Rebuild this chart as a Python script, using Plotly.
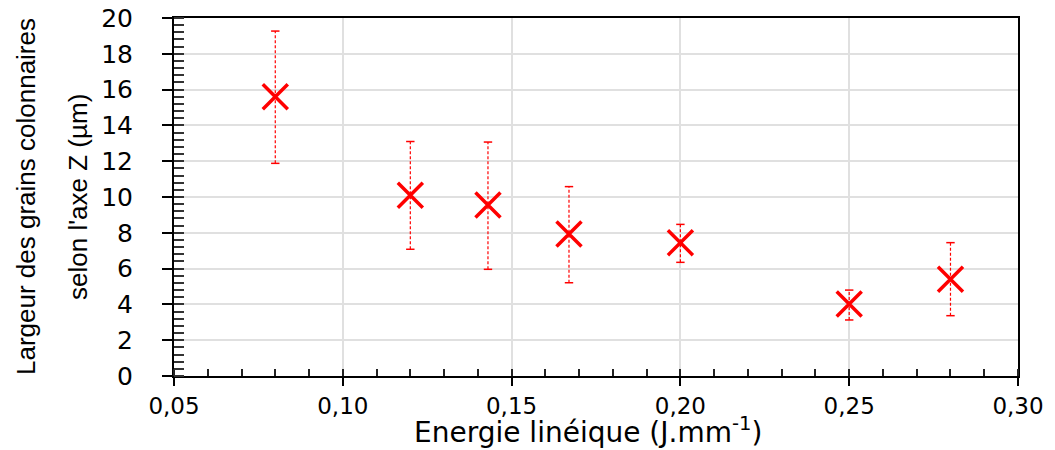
import plotly.graph_objects as go

energie = [0.08, 0.12, 0.143, 0.167, 0.20, 0.25, 0.28]
largeur = [15.6, 10.1, 9.55, 7.93, 7.45, 4.02, 5.40]
borne_haute = [19.27, 13.1, 13.07, 10.58, 8.47, 4.80, 7.45]
borne_basse = [11.88, 7.08, 5.96, 5.21, 6.35, 3.13, 3.37]

x_ticks = [0.05, 0.10, 0.15, 0.20, 0.25, 0.30]
y_ticks = [0, 2, 4, 6, 8, 10, 12, 14, 16, 18, 20]

x_title = "Energie linéique (J.mm<sup>-1</sup>)"
y_title_lines = ["Largeur des grains colonnaires", "selon l'axe Z (µm)"]

red = "#ff0000"

fig = go.Figure()

# dashed error bars built from the data arrays
ex, ey = [], []
for xv, lo, hi in zip(energie, borne_basse, borne_haute):
    ex += [xv, xv, None]
    ey += [lo, hi, None]
fig.add_trace(go.Scatter(x=ex, y=ey, mode="lines",
                         line=dict(color=red, width=1.2, dash="3px,2px"),
                         hoverinfo="skip", showlegend=False))
fig.add_trace(go.Scatter(x=energie + energie, y=borne_haute + borne_basse, mode="markers",
                         marker=dict(symbol="line-ew", size=6, line=dict(color=red, width=1.5)),
                         hoverinfo="skip", showlegend=False))
fig.add_trace(go.Scatter(x=energie, y=largeur, mode="markers",
                         marker=dict(symbol="x-thin", size=25, line=dict(color=red, width=3.5)),
                         showlegend=False))

fig.update_xaxes(range=[0.05, 0.30], tickvals=x_ticks, tickformat=".2f",
                 showline=True, linecolor="black", linewidth=2, mirror=True,
                 ticks="outside", ticklen=8, tickwidth=2, tickcolor="black",
                 minor=dict(dtick=0.01, ticks="inside", ticklen=7, tickwidth=1.5, tickcolor="#222", showgrid=False),
                 showgrid=True, gridcolor="#e0e0e0", gridwidth=1.5,
                 zeroline=False, tickfont=dict(family="DejaVu Sans", size=23, color="black"),
                 ticklabelstandoff=0)
fig.update_yaxes(range=[0, 20], tickvals=y_ticks,
                 showline=True, linecolor="black", linewidth=2, mirror=True,
                 ticks="outside", ticklen=10, tickwidth=2, tickcolor="black",
                 minor=dict(dtick=0.4, ticks="inside", ticklen=10, tickwidth=1.5, tickcolor="#333", showgrid=False),
                 showgrid=True, gridcolor="#e0e0e0", gridwidth=1.5,
                 zeroline=False, tickfont=dict(family="DejaVu Sans", size=25, color="black"),
                 ticklabelstandoff=24)

# x title as annotation placed below the tick labels
fig.add_annotation(text=x_title, xref="paper", yref="paper", x=0.49, y=0,
                   xanchor="center", yanchor="bottom", yshift=-74, borderpad=0,
                   showarrow=False,
                   font=dict(family="DejaVu Sans", size=28, color="black"))

# y title as two rotated lines
for txt, shift in zip(y_title_lines, [-148, -96]):
    fig.add_annotation(text=txt, xref="paper", yref="paper", x=0, y=0.5,
                       xanchor="center", yanchor="middle", xshift=shift, yshift=0,
                       textangle=-90, showarrow=False,
                       font=dict(family="Liberation Sans", size=26, color="black"))

fig.update_layout(width=1055, height=450, separators=", ",
                  margin=dict(l=174, r=37, t=18, b=74, autoexpand=False),
                  plot_bgcolor="white", paper_bgcolor="white")

fig.write_html("out.html", config={"displayModeBar": False},
               post_script="document.body.style.margin='0';document.body.style.padding='0';")
